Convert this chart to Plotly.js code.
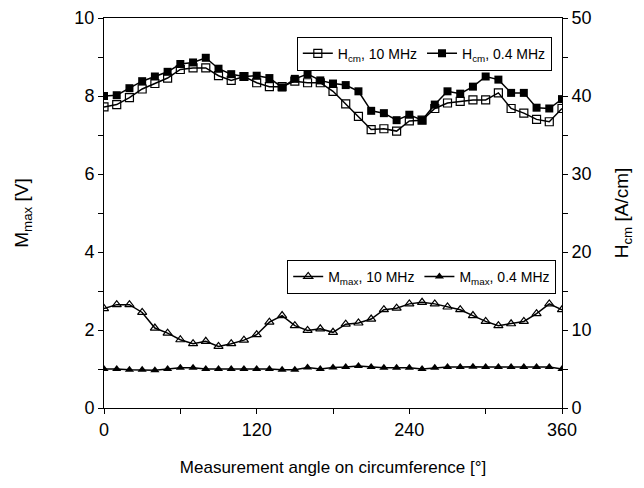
<!DOCTYPE html>
<html>
<head>
<meta charset="utf-8">
<script src="https://cdn.plot.ly/plotly-3.0.1.min.js"></script>
<style>html,body{margin:0;padding:0;background:#fff;}#chart{width:644px;height:488px;}</style>
</head>
<body>
<div id="chart"></div>
<script>
// Measurement angles [deg]
var angles = [0, 10, 20, 30, 40, 50, 60, 70, 80, 90, 100, 110, 120, 130, 140, 150, 160, 170, 180,
              190, 200, 210, 220, 230, 240, 250, 260, 270, 280, 290, 300, 310, 320, 330, 340, 350, 360];

// H_cm [A/cm], 10 MHz (open squares, right axis)
var hcm10 = [38.6, 38.9, 39.8, 40.9, 41.6, 42.3, 43.4, 43.6, 43.6, 42.6, 42.0, 42.5, 41.7, 41.2, 41.2, 41.9, 41.7, 41.7, 40.6,
             39.0, 37.4, 35.7, 35.8, 35.5, 36.8, 36.9, 38.4, 39.1, 39.3, 39.5, 39.5, 40.4, 38.4, 37.8, 37.0, 36.7, 38.4];

// H_cm [A/cm], 0.4 MHz (filled squares, right axis)
var hcm04 = [40.0, 40.1, 41.0, 41.9, 42.5, 43.1, 44.1, 44.3, 44.9, 43.5, 42.8, 42.5, 42.6, 42.3, 41.1, 42.2, 42.8, 42.0, 41.6,
             41.4, 40.6, 38.1, 37.8, 36.9, 37.6, 36.9, 38.9, 40.6, 40.3, 41.2, 42.5, 42.1, 40.4, 40.4, 38.5, 38.4, 39.6];

// M_max [V], 10 MHz (open triangles, left axis)
var mmax10 = [2.55, 2.65, 2.65, 2.45, 2.05, 1.92, 1.75, 1.65, 1.71, 1.58, 1.65, 1.74, 1.88, 2.20, 2.37, 2.11, 1.99, 2.03, 1.94,
              2.15, 2.18, 2.28, 2.52, 2.56, 2.67, 2.71, 2.67, 2.59, 2.52, 2.37, 2.22, 2.11, 2.16, 2.22, 2.42, 2.67, 2.52];

// M_max [V], 0.4 MHz (filled triangles, left axis)
var mmax04 = [1.00, 1.00, 0.98, 0.98, 0.97, 1.00, 1.03, 1.03, 1.00, 1.00, 1.00, 1.00, 1.00, 1.00, 0.98, 0.98, 1.04, 1.00, 1.04,
              1.05, 1.08, 1.05, 1.03, 1.03, 1.03, 1.00, 1.03, 1.05, 1.05, 1.06, 1.05, 1.05, 1.05, 1.05, 1.05, 1.05, 1.00];

var seriesNames = ['H<sub>cm</sub>, 10 MHz', 'H<sub>cm</sub>, 0.4 MHz', 'M<sub>max</sub>, 10 MHz', 'M<sub>max</sub>, 0.4 MHz'];
var xTickVals = [0, 60, 120, 180, 240, 300, 360];
var xTickText = ['0', '', '120', '', '240', '', '360'];
var yTickVals = [0, 1, 2, 3, 4, 5, 6, 7, 8, 9, 10];
var yTickText = ['0', '', '2', '', '4', '', '6', '', '8', '', '10'];
var y2TickVals = [0, 5, 10, 15, 20, 25, 30, 35, 40, 45, 50];
var y2TickText = ['0', '', '10', '', '20', '', '30', '', '40', '', '50'];

var FONT = 'Liberation Sans, Arial, Helvetica, sans-serif';
var lineStyle = {color: '#000', width: 1.5};

var traces = [
  {x: angles, y: hcm10, name: seriesNames[0], yaxis: 'y2', mode: 'lines+markers', legend: 'legend',
   line: lineStyle, marker: {symbol: 'square-open', size: 8, color: '#000', line: {width: 1.2, color: '#000'}}},
  {x: angles, y: hcm04, name: seriesNames[1], yaxis: 'y2', mode: 'lines+markers', legend: 'legend',
   line: lineStyle, marker: {symbol: 'square', size: 8, color: '#000'}},
  {x: angles, y: mmax10, name: seriesNames[2], yaxis: 'y', mode: 'lines+markers', legend: 'legend2',
   line: lineStyle, marker: {symbol: 'triangle-up-open', size: 8, color: '#000', line: {width: 1.2, color: '#000'}}},
  {x: angles, y: mmax04, name: seriesNames[3], yaxis: 'y', mode: 'lines+markers', legend: 'legend2',
   line: lineStyle, marker: {symbol: 'triangle-up', size: 8, color: '#000'}}
];

var legendCommon = {
  xanchor: 'left', yanchor: 'top', orientation: 'h',
  bgcolor: '#fff', bordercolor: '#000', borderwidth: 1,
  font: {family: FONT, size: 14}, itemwidth: 30, tracegroupgap: 0
};

var layout = {
  width: 644, height: 488,
  margin: {l: 104, r: 82, t: 18, b: 80, pad: 0},
  paper_bgcolor: '#fff', plot_bgcolor: '#fff',
  font: {family: FONT, size: 17, color: '#000'},
  showlegend: true,
  xaxis: {
    range: [0, 360], tickvals: xTickVals, ticktext: xTickText,
    showgrid: false, zeroline: false, showline: true, linecolor: '#000', linewidth: 1,
    mirror: true, ticks: 'outside', ticklen: 5, tickcolor: '#000',
    tickfont: {family: FONT, size: 18},
    title: {text: 'Measurement angle on circumference [°]', font: {family: FONT, size: 17}, standoff: 22}
  },
  yaxis: {
    range: [0, 10], tickvals: yTickVals, ticktext: yTickText,
    showgrid: false, zeroline: false, showline: true, linecolor: '#000', linewidth: 1,
    ticks: 'outside', ticklen: 5, tickcolor: '#000',
    tickfont: {family: FONT, size: 18},
    title: {text: 'M<sub>max</sub> [V]', font: {family: FONT, size: 19}, standoff: 40}
  },
  yaxis2: {
    range: [0, 50], tickvals: y2TickVals, ticktext: y2TickText,
    overlaying: 'y', side: 'right',
    showgrid: false, zeroline: false, showline: true, linecolor: '#000', linewidth: 1,
    ticks: 'outside', ticklen: 5, tickcolor: '#000',
    tickfont: {family: FONT, size: 18},
    title: {text: 'H<sub>cm</sub> [A/cm]', font: {family: FONT, size: 19}, standoff: 24}
  },
  legend: Object.assign({x: 0.421, y: 0.952}, legendCommon),
  legend2: Object.assign({x: 0.40, y: 0.38}, legendCommon)
};

Plotly.newPlot('chart', traces, layout, {displayModeBar: false, staticPlot: true});
</script>
</body>
</html>
